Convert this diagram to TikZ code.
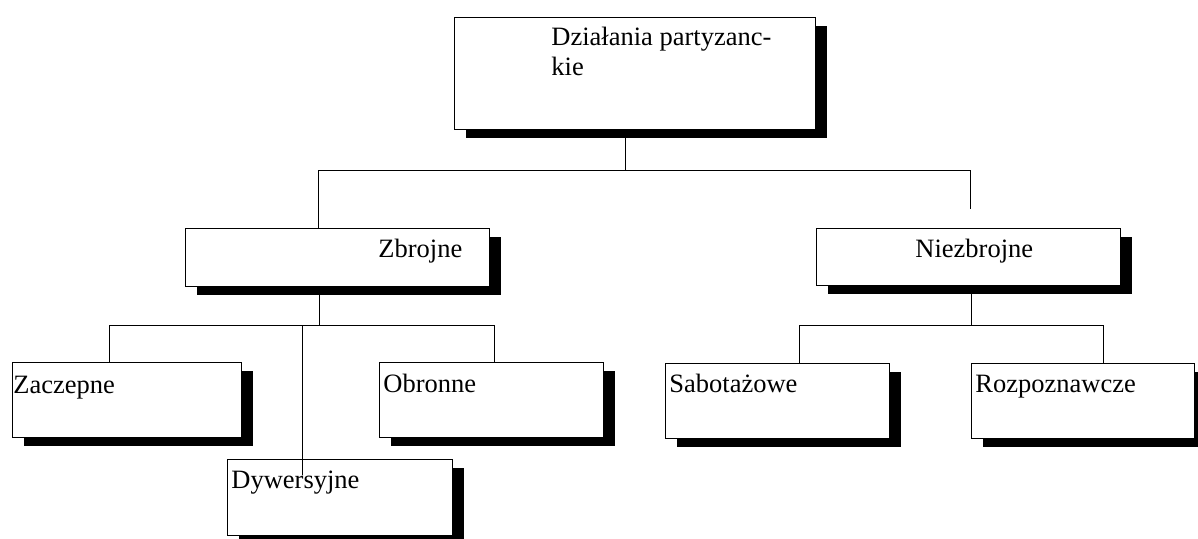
\documentclass[tikz,border=0pt]{standalone}
\usepackage{fontspec}
\setmainfont{Liberation Serif}
\usetikzlibrary{shadows}

\newlength{\du}
\setlength{\du}{0.5pt}

\tikzset{
  unitbox/.style={draw, line width=1.3\du, fill=white, anchor=north west, inner sep=0pt,
    drop shadow={shadow xshift=11\du, shadow yshift=-8\du, fill=black, opacity=1}},
  unittext/.style={anchor=base west, inner sep=0pt, font=\fontsize{13.25}{15}\selectfont},
  link/.style={line width=1\du}
}

\begin{document}
\begin{tikzpicture}[x=\du, y=-\du]
\useasboundingbox (0,0) rectangle (1198,538);
% boxes
\node[unitbox, minimum width=361\du, minimum height=112\du] (dzial) at (454,17) {};
\node[unitbox, minimum width=304\du, minimum height=58\du] (zbr) at (185,228) {};
\node[unitbox, minimum width=304\du, minimum height=57\du] (niezbr) at (816,228) {};
\node[unitbox, minimum width=229\du, minimum height=75\du] (zacz) at (12,362) {};
\node[unitbox, minimum width=224\du, minimum height=75\du] (obr) at (379,362) {};
\node[unitbox, minimum width=225\du, minimum height=76\du] (dyw) at (227,459) {};
\node[unitbox, minimum width=224\du, minimum height=75\du] (sab) at (665,363) {};
\node[unitbox, minimum width=223\du, minimum height=75\du] (rozp) at (971,363) {};
% labels
\node[unittext] (dziala) at (551,45) {Działania partyzanc-};
\node[unittext] (dzialb) at (551,75) {kie};
\node[unittext] (zbrt) at (378,257) {Zbrojne};
\node[unittext] (niezbrt) at (915,257) {Niezbrojne};
\node[unittext] (zaczt) at (13,393) {Zaczepne};
\node[unittext] (obrt) at (383,392) {Obronne};
\node[unittext] (dywt) at (231,488) {Dywersyjne};
\node[unittext] (sabt) at (669,392) {Sabotażowe};
\node[unittext] (rozpt) at (975,392) {Rozpoznawcze};
% junctions
\coordinate (j0) at (625,170);
\coordinate (jl) at (318,170);
\coordinate (jr) at (970,170);
\coordinate (jrend) at (970,209);
\coordinate (j1) at (319,325);
\coordinate (j1l) at (109,325);
\coordinate (j1r) at (494,325);
\coordinate (j1m) at (302,325);
\coordinate (dywend) at (302,475);
\coordinate (j2) at (971,325);
\coordinate (j2l) at (799,325);
\coordinate (j2r) at (1103,325);
% connectors
\draw[link] (dzial.south -| j0) -- (j0);
\draw[link] (jl) -- (jr);
\draw[link] (jl) -- (zbr.north -| jl);
\draw[link] (jr) -- (jrend);
\draw[link] (zbr.south -| j1) -- (j1);
\draw[link] (j1l) -- (j1r);
\draw[link] (j1l) -- (zacz.north -| j1l);
\draw[link] (j1r) -- (obr.north -| j1r);
\draw[link] (j1m) -- (dywend);
\draw[link] (niezbr.south -| j2) -- (j2);
\draw[link] (j2l) -- (j2r);
\draw[link] (j2l) -- (sab.north -| j2l);
\draw[link] (j2r) -- (rozp.north -| j2r);
\end{tikzpicture}
\end{document}
